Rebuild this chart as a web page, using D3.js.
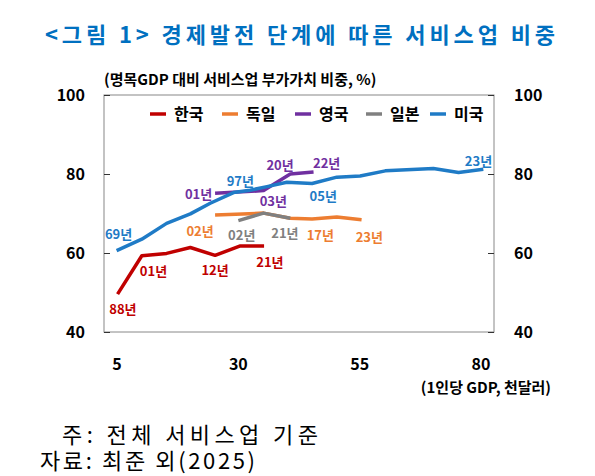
<!DOCTYPE html><html><head><meta charset="utf-8"><script src="https://cdn.jsdelivr.net/npm/d3@7"></script>
<style>body{margin:0;background:#fff}text{font-family:"Noto Sans CJK KR","Noto Sans",sans-serif}</style></head><body><svg id="c" width="595" height="476"></svg><script>
const xTicks=[5,30,55,80], yTicks=[40,60,80,100];
const korea=[[5.1,49.6],[10.1,59.3],[15.2,59.9],[20.1,61.4],[25.2,59.4],[30.4,61.8],[35.3,61.8]];
const germany=[[25.2,69.6],[35.2,70.1],[40.7,68.8],[45.2,68.6],[50.3,69.1],[55.4,68.4]];
const uk=[[25.2,75.1],[35.2,75.8],[40.7,80],[45.5,80.5]];
const japan=[[30.0,68.2],[35.2,70.1],[40.7,68.8]];
const usa=[[4.9,60.6],[10.1,63.5],[15.2,67.5],[20.1,69.9],[24.2,72.6],[29.0,75.3],[32.4,75.9],[35.9,76.8],[40,77.9],[45.2,77.6],[50.3,79.2],[55.1,79.5],[60.3,80.8],[70.2,81.4],[75.4,80.4],[80.5,81.2]];
const names=["한국","독일","영국","일본","미국"];
const colors=["#C00000","#ED7D31","#7030A0","#808080","#1F7BC6"];
const series=[korea,germany,uk,japan,usa];
const labels=[
 ["69년",5.3,64.7,4],["97년",30.4,78.3,4],["05년",47.5,74.4,4],["23년",79.5,83.4,4],
 ["01년",21.8,74.9,2],["20년",38.6,82.3,2],["22년",48.2,82.9,2],["03년",37.2,73.2,2],
 ["02년",22.1,65.6,1],["17년",46.9,64.6,1],["23년",57.0,64.1,1],
 ["02년",30.7,64.6,3],["21년",39.6,65.1,3],
 ["01년",12.5,55.4,0],["12년",25.2,55.7,0],["21년",36.5,57.8,0],["88년",6.2,45.7,0]];
const svg=d3.select("#c");
const x=d3.scaleLinear().domain([2.3,82.7]).range([104,494]);
const y=d3.scaleLinear().domain([40,100]).range([332,95]);
svg.append("text").attr("x",45).attr("y",43).attr("textLength",510).attr("lengthAdjust","spacing").attr("fill","#0070C0").attr("font-size",22).attr("font-weight","bold").text("<그림 1> 경제발전 단계에 따른 서비스업 비중");
svg.append("rect").attr("x",104).attr("y",95).attr("width",390).attr("height",237).attr("fill","none").attr("stroke","#888").attr("stroke-width",1);
svg.append("g").attr("transform","translate(104,0)").call(d3.axisRight(y).tickValues(yTicks).tickSize(6).tickFormat("")).call(g=>{g.select(".domain").remove();g.selectAll("line").attr("stroke","#333");});
svg.append("g").attr("transform","translate(494,0)").call(d3.axisLeft(y).tickValues(yTicks).tickSize(6).tickFormat("")).call(g=>{g.select(".domain").remove();g.selectAll("line").attr("stroke","#333");});
yTicks.forEach(v=>{
 svg.append("text").attr("x",85).attr("y",y(v)+6).attr("text-anchor","end").attr("font-size",16).attr("font-weight","bold").text(v);
 svg.append("text").attr("x",514).attr("y",y(v)+6).attr("font-size",16).attr("font-weight","bold").text(v);});
xTicks.forEach(v=>svg.append("text").attr("x",x(v)).attr("y",370).attr("text-anchor","middle").attr("font-size",16).attr("font-weight","bold").text(v));
svg.append("text").attr("x",104).attr("y",85).attr("font-size",15).attr("font-weight","bold").text("(명목GDP 대비 서비스업 부가가치 비중, %)");
svg.append("text").attr("x",551).attr("y",393).attr("text-anchor","end").attr("font-size",15).attr("font-weight","bold").text("(1인당 GDP, 천달러)");
const line=d3.line().x(d=>x(d[0])).y(d=>y(d[1]));
series.forEach((s,i)=>svg.append("path").attr("d",line(s)).attr("fill","none").attr("stroke",colors[i]).attr("stroke-width",3.5).attr("stroke-linejoin","round"));
labels.forEach(l=>svg.append("text").attr("x",x(l[1])).attr("y",y(l[2])+5).attr("text-anchor","middle").attr("font-size",13).attr("font-weight","bold").attr("fill",colors[l[3]]).text(l[0]));
const lx=[150,222,295,366,430];
names.forEach((n,i)=>{svg.append("line").attr("x1",lx[i]).attr("x2",lx[i]+16).attr("y1",114).attr("y2",114).attr("stroke",colors[i]).attr("stroke-width",3.5);
 svg.append("text").attr("x",lx[i]+24).attr("y",120).attr("font-size",16).attr("font-weight","bold").text(n);});
svg.append("text").attr("x",62).attr("y",443).attr("font-size",22).attr("textLength",256).attr("lengthAdjust","spacing").text("주: 전체 서비스업 기준");
svg.append("text").attr("x",40).attr("y",469).attr("font-size",22).attr("textLength",215).attr("lengthAdjust","spacing").text("자료: 최준 외(2025)");
</script></body></html>
